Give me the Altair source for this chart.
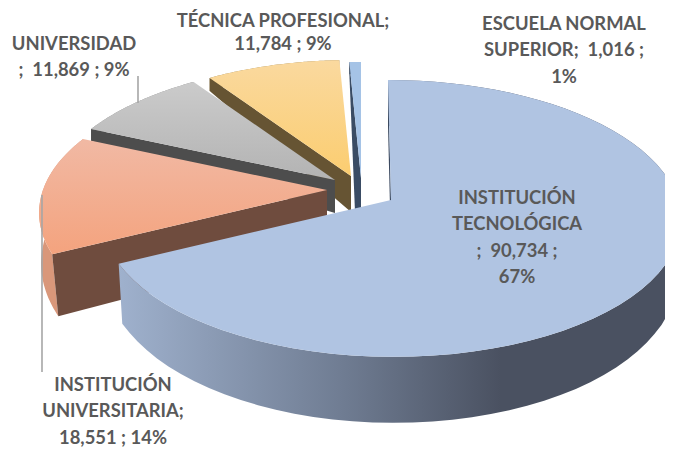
import numpy as np
import pandas as pd
import altair as alt

# --- data
categories = ["INSTITUCIÓN TECNOLÓGICA", "INSTITUCIÓN UNIVERSITARIA", "UNIVERSIDAD",
              "TÉCNICA PROFESIONAL", "ESCUELA NORMAL SUPERIOR"]
values = [90734, 18551, 11869, 11784, 1016]

label_lines = [
    ["INSTITUCIÓN", "TECNOLÓGICA", ";\u00a0 90,734 ;", "67%"],
    ["INSTITUCIÓN", "UNIVERSITARIA;", "18,551 ; 14%"],
    ["UNIVERSIDAD", ";\u00a0 11,869 ; 9%"],
    ["TÉCNICA PROFESIONAL;", "11,784 ; 9%"],
    ["ESCUELA NORMAL", "SUPERIOR;\u00a0 1,016 ;", "1%"],
]

# --- layout / style
W, H = 657, 437
OFF = 8
RX, RY = 284, 135
FONT = "Lato"
label_pos = [(517, 198), (113, 385), (74, 44), (283, 21), (564, 24)]
label_gap = [26.4, 26.4, 26.4, 23, 26.4]

def grad_v(c1, c2):
    return alt.Gradient(gradient="linear", x1=0, y1=0, x2=0, y2=1,
                        stops=[alt.GradientStop(offset=0, color=c1),
                               alt.GradientStop(offset=1, color=c2)])

main_wall = alt.Gradient(gradient="linear", x1=0, y1=0, x2=1, y2=0,
                         stops=[alt.GradientStop(offset=0, color="#9fb1cd"),
                                alt.GradientStop(offset=0.4, color="#6f7c92"),
                                alt.GradientStop(offset=0.68, color="#4a5161"),
                                alt.GradientStop(offset=1, color="#4a5161")])

styles = [
    dict(apex=(391, 200), k=0.133, rx=287, ry=136, skew=-3, wall_w=0, face="#b0c4e2", outer=main_wall, inner="#3c4a60",
         depth=[(-1, 66), (-0.44, 60), (0.1, 46), (1, 46)], shrink=0.03),
    dict(apex=(327, 190), k=0.164, rx=RX, ry=RY, skew=0, wall_w=0, face=grad_v("#f1b9a4", "#f4a37e"), outer="#d9977a", inner="#6f4c3e",
         depth=[(-0.44, 62), (0, 56), (0.4, 12), (1, 10)], shrink=0.05),
    dict(apex=(335, 180), k=0.164, rx=RX, ry=RY, skew=0, wall_w=0, face=grad_v("#cbcbcb", "#b3b3b3"), outer="#8a8a8a", inner="#4d4d4d",
         depth=[(0, 33), (0.4, 12), (1, 12)], shrink=0.0),
    dict(apex=(351, 176), k=0.164, rx=RX, ry=RY, skew=0, wall_w=0, face=grad_v("#fad99f", "#fbcd70"), outer="#9c8350", inner="#665433",
         depth=[(0, 36), (0.825, 13), (1, 12)], shrink=0.0),
    dict(apex=(361, 178), k=0.164, rx=RX, ry=RY, skew=0, wall_w=6, face=grad_v("#a5c3e6", "#a5c3e6"), outer="#3a4c64", inner="#3a4c64",
         depth=[(0, 34), (1, 12)], shrink=0.0),
]

def proj(u, v, st):
    w = 1 + st["k"] * v
    return (st["apex"][0] + st["rx"] * u / w + st["skew"] * v - OFF,
            st["apex"][1] - st["ry"] * v / w - OFF)

def lower(u, v, st):
    x, y = proj(u, v, st)
    knots = np.array(st["depth"], dtype=float)
    d = np.interp(v, knots[:, 0], knots[:, 1])
    cx = st["apex"][0] - OFF
    return x + (cx - x) * st["shrink"] * np.clip(-v * 2, 0, 1) * 0.5, y + d

XS = alt.Scale(domain=[0, W])
YS = alt.Scale(domain=[H, 0])

def poly(xs, ys, fill):
    df = pd.DataFrame({"x": xs, "y": ys, "i": range(len(xs))})
    return alt.Chart(df).mark_line(fill=fill, strokeOpacity=0, interpolate="linear", clip=True).encode(
        x=alt.X("x:Q", scale=XS, axis=None),
        y=alt.Y("y:Q", scale=YS, axis=None),
        order="i:Q",
    )

total = sum(values)
fracs = np.array(values) / total
edges = np.concatenate([[0], np.cumsum(fracs)]) * 2 * np.pi

layers = []

def leader(x, y1, y2):
    df = pd.DataFrame({"x": [x - OFF], "y": [y1 - OFF], "y2": [y2 - OFF]})
    return alt.Chart(df).mark_rule(color="#a6a6a6", strokeWidth=1.6).encode(
        x=alt.X("x:Q", scale=XS, axis=None),
        y=alt.Y("y:Q", scale=YS, axis=None),
        y2="y2:Q",
    )

for idx in [4, 3, 2, 1, 0]:
    st = styles[idx]
    t = np.linspace(edges[idx], edges[idx + 1], 70)
    u, v = np.sin(t), np.cos(t)
    fx, fy = proj(u, v, st)
    ax, ay = proj(np.array([0.0]), np.array([0.0]), st)
    bx, by = lower(u, v, st)
    abx, aby = lower(np.array([0.0]), np.array([0.0]), st)
    # outer wall
    layers.append(poly(np.r_[fx, bx[::-1]], np.r_[fy, by[::-1]], st["outer"]))
    # radial wall on the starting side
    layers.append(poly([fx[0], ax[0], abx[0], abx[0] - st["wall_w"], bx[0]],
                       [fy[0], ay[0], aby[0], aby[0], by[0]], st["inner"]))
    # top face
    layers.append(poly(np.r_[ax, fx], np.r_[ay, fy], st["face"]))

lead = [leader(42, 195, 372), leader(138, 76, 103)]

rows = []
for lines, (lx, ly), gap in zip(label_lines, label_pos, label_gap):
    for j, s in enumerate(lines):
        rows.append({"x": lx - OFF, "y": ly - OFF + j * gap, "t": s})
text = alt.Chart(pd.DataFrame(rows)).mark_text(
    font=FONT, fontSize=18.4, fontWeight="bold", color="#595959", align="center", baseline="middle"
).encode(
    x=alt.X("x:Q", scale=XS, axis=None),
    y=alt.Y("y:Q", scale=YS, axis=None),
    text="t:N",
)

chart = alt.layer(*layers, *lead, text).properties(
    width=W, height=H, padding=0, background="white"
).configure_view(stroke=None)

chart.save("out.html", embed_options={"renderer": "svg", "actions": False})
